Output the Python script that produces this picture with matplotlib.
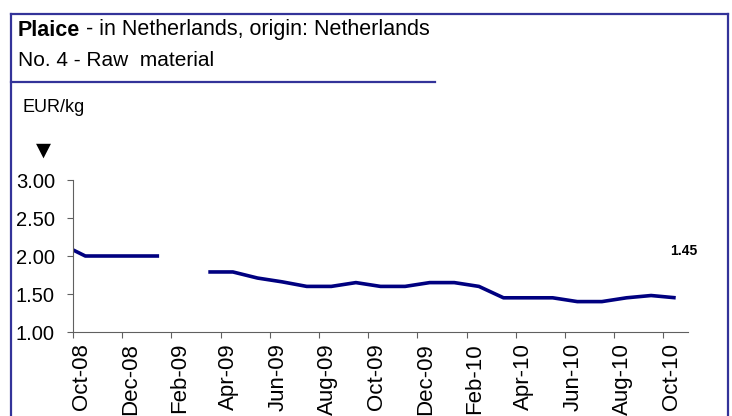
import numpy as np
import matplotlib
matplotlib.use("Agg")
import matplotlib.pyplot as plt
import matplotlib.transforms as mtransforms
from matplotlib.lines import Line2D

plt.rcParams['font.family'] = ['Liberation Sans', 'DejaVu Sans']

# monthly prices, EUR/kg (Sep-08 .. Oct-10), nan = no quote
months = ['Sep-08', 'Oct-08', 'Nov-08', 'Dec-08', 'Jan-09', 'Feb-09', 'Mar-09', 'Apr-09',
          'May-09', 'Jun-09', 'Jul-09', 'Aug-09', 'Sep-09', 'Oct-09', 'Nov-09', 'Dec-09',
          'Jan-10', 'Feb-10', 'Mar-10', 'Apr-10', 'May-10', 'Jun-10', 'Jul-10', 'Aug-10',
          'Sep-10', 'Oct-10']
prices = [2.16, 2.00, 2.00, 2.00, 2.00, np.nan, 1.79, 1.79,
          1.71, 1.66, 1.60, 1.60, 1.65, 1.60, 1.60, 1.65,
          1.65, 1.60, 1.45, 1.45, 1.45, 1.40, 1.40, 1.45,
          1.48, 1.45]
tick_labels = ['Oct-08', 'Dec-08', 'Feb-09', 'Apr-09', 'Jun-09', 'Aug-09', 'Oct-09',
               'Dec-09', 'Feb-10', 'Apr-10', 'Jun-10', 'Aug-10', 'Oct-10']
yticks = [1.00, 1.50, 2.00, 2.50, 3.00]

W, H = 732, 416
fig = plt.figure(figsize=(W / 100, H / 100), dpi=100)
ax = fig.add_axes([73 / W, 1 - 332 / H, 615 / W, 152 / H])

# month centres, Oct-08 starts at 0
x = np.arange(len(months)) - 1 + 0.5
ax.plot(x, prices, color='#000080', lw=2.6, solid_joinstyle='round', solid_capstyle='butt')
ax.set_xlim(0, 25)
ax.set_ylim(1, 3)

ax.set_xticks(np.arange(0, 25, 2))
ax.set_xticklabels(tick_labels, rotation=90, fontsize=16)
ax.set_yticks(yticks)
ax.set_yticklabels(['%.2f' % v for v in yticks], fontsize=14.5)
for s in ['top', 'right']:
    ax.spines[s].set_visible(False)
for s in ['left', 'bottom']:
    ax.spines[s].set_color('#606060')
    ax.spines[s].set_linewidth(0.8)
ax.tick_params(axis='both', colors='#606060', length=4, width=0.8, labelcolor='black')
ax.tick_params(axis='y', pad=9)
ax.tick_params(axis='x', pad=4)
off = mtransforms.ScaledTranslation(8 / 100, 0, fig.dpi_scale_trans)
for lab in ax.get_xticklabels():
    lab.set_transform(lab.get_transform() + off)

ax.annotate('%.2f' % prices[-1], (x[-1], prices[-1]), xytext=(6, 34),
            textcoords='offset points', ha='center', va='center',
            fontsize=10, fontweight='bold')

# frame round the chart
fx = lambda p: p / W
fy = lambda p: 1 - p / H
frame = '#333399'
fig.add_artist(Line2D([fx(11), fx(11)], [fy(14), 0], color=frame, lw=1.6))
fig.add_artist(Line2D([fx(11), fx(728)], [fy(14), fy(14)], color=frame, lw=1.6))
fig.add_artist(Line2D([fx(728), fx(728)], [fy(14), 0], color=frame, lw=1.6))
fig.add_artist(Line2D([fx(11), fx(435)], [fy(82), fy(82)], color=frame, lw=1.6))

t1 = fig.text(fx(18), fy(30), 'Plaice', fontsize=15.5, fontweight='bold', va='center')
fig.canvas.draw()
bb = t1.get_window_extent()
fig.text(bb.x1 / W, fy(30), ' - in Netherlands, origin: Netherlands', fontsize=15.5, va='center')
fig.text(fx(18), fy(60), 'No. 4 - Raw  material', fontsize=15, va='center')
fig.text(fx(22), fy(107), 'EUR/kg', fontsize=13, va='center')
fig.text(fx(43), fy(150), '\u25bc', fontsize=14, va='center', ha='center', family='DejaVu Sans')

fig.savefig('out.png', dpi=100)
